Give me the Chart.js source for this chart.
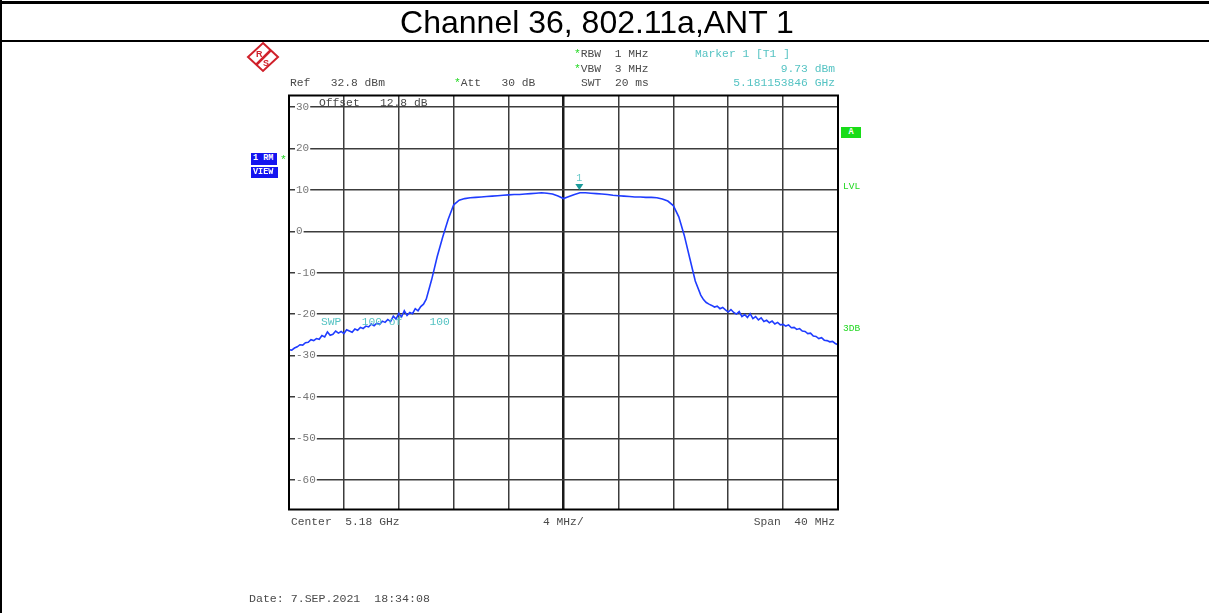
<!DOCTYPE html>
<html>
<head>
<meta charset="utf-8">
<script src="https://cdn.jsdelivr.net/npm/chart.js@4.4.0/dist/chart.umd.min.js"></script>
<style>
html, body { margin: 0; padding: 0; background: #fff; }
#page { position: relative; width: 1209px; height: 613px; overflow: hidden; }
#chart { position: absolute; left: 0; top: 0; }
.rule { position: absolute; background: #000; }
.title { position: absolute; left: 0; top: 6px; width: 1194px; text-align: center;
  font: 32px "Liberation Sans", Arial, sans-serif; line-height: 32px; color: #000; }
.m { position: absolute; font-family: "Liberation Mono", monospace; font-size: 11.3px;
  line-height: 12px; color: #4a4a4a; white-space: pre; }
.teal { color: #55c3c3; }
.grn { color: #22d822; }
.box { position: absolute; font-family: "Liberation Mono", monospace; font-size: 8.5px;
  font-weight: bold; color: #fff; line-height: 11px; white-space: pre; padding-left: 2px; box-sizing: border-box; }
</style>
</head>
<body>
<div id="page">
  <canvas id="chart" width="1209" height="613"></canvas>

  <div class="rule" style="left:0;top:1px;width:1209px;height:3px"></div>
  <div class="rule" style="left:0;top:40px;width:1209px;height:2px"></div>
  <div class="rule" style="left:0;top:0;width:2px;height:613px"></div>
  <div class="title">Channel 36, 802.11a,ANT 1</div>

  <svg style="position:absolute;left:246px;top:41px" width="34" height="32" viewBox="0 0 34 32">
    <polygon points="17,2 32,16 17,30 2,16" fill="none" stroke="#d0202a" stroke-width="2"/>
    <line x1="10" y1="24" x2="25" y2="9" stroke="#d0202a" stroke-width="2.5"/>
    <text x="10" y="16" font-family="Liberation Sans" font-size="9" font-weight="bold" fill="#d0202a">R</text>
    <text x="17" y="25" font-family="Liberation Sans" font-size="9" font-weight="bold" fill="#d0202a">S</text>
  </svg>

  <div class="m" style="left:290px;top:77px">Ref   32.8 dBm</div>
  <div class="m" style="left:454px;top:77px"><span class="grn">*</span>Att   30 dB</div>
  <div class="m" style="left:574px;top:48px"><span class="grn">*</span>RBW  1 MHz</div>
  <div class="m" style="left:574px;top:63px"><span class="grn">*</span>VBW  3 MHz</div>
  <div class="m" style="left:581px;top:77px">SWT  20 ms</div>
  <div class="m teal" style="left:695px;top:48px">Marker 1 [T1 ]</div>
  <div class="m teal" style="right:374px;top:63px">9.73 dBm</div>
  <div class="m teal" style="right:374px;top:77px">5.181153846 GHz</div>

  <div class="m" style="left:319px;top:97px">Offset   12.8 dB</div>
  <div class="m teal" style="left:321px;top:316px">SWP   100 of    100</div>

  <div class="box" style="left:251px;top:153px;width:26px;height:12px;background:#1414f0">1 RM</div>
  <div class="box" style="left:251px;top:167px;width:27px;height:11px;background:#1414f0">VIEW</div>
  <div class="m grn" style="left:280px;top:154px">*</div>

  <div class="box" style="left:841px;top:127px;width:20px;height:11px;background:#18dc18;text-align:center;padding:0">A</div>
  <div class="m grn" style="left:843px;top:181px;font-size:9.5px">LVL</div>
  <div class="m grn" style="left:843px;top:323px;font-size:9.5px">3DB</div>

  <div class="m" style="left:291px;top:516px">Center  5.18 GHz</div>
  <div class="m" style="left:543px;top:516px">4 MHz/</div>
  <div class="m" style="right:374px;top:516px">Span  40 MHz</div>
  <div class="m" style="left:249px;top:593px;font-size:11.6px">Date: 7.SEP.2021  18:34:08</div>
</div>

<script>
'use strict';

/* sweep settings */
var centerMHz = 5180;
var spanMHz = 40;
var refLevel = 32.8;
var yTicks = [30, 20, 10, 0, -10, -20, -30, -40, -50, -60];

/* trace: offset from center (MHz) and level (dBm) */
var offsetMHz = [
  -20.0, -19.8, -19.6, -19.4, -19.2, -19.0, -18.8, -18.6, -18.4, -18.2,
  -18.0, -17.8, -17.6, -17.4, -17.2, -17.0, -16.8, -16.6, -16.4, -16.2,
  -16.0, -15.8, -15.6, -15.4, -15.2, -15.0, -14.8, -14.6, -14.4, -14.2,
  -14.0, -13.8, -13.6, -13.4, -13.2, -13.0, -12.8, -12.6, -12.4, -12.2,
  -12.0, -11.8, -11.6, -11.4, -11.2, -11.0, -10.8, -10.6, -10.4, -10.2,
  -10.0, -9.6, -9.2, -8.8, -8.4, -8.0, -7.6, -7.2, -6.8, -6.4,
  -6.0, -5.6, -5.2, -4.8, -4.4, -4.0, -3.6, -3.2, -2.8, -2.4,
  -2.0, -1.6, -1.2, -0.8, -0.4, 0.0, 0.4, 0.8, 1.2, 1.6,
  2.0, 2.4, 2.8, 3.2, 3.6, 4.0, 4.4, 4.8, 5.2, 5.6,
  6.0, 6.4, 6.8, 7.2, 7.6, 8.0, 8.4, 8.8, 9.2, 9.6,
  10.0, 10.2, 10.4, 10.6, 10.8, 11.0, 11.2, 11.4, 11.6, 11.8,
  12.0, 12.2, 12.4, 12.6, 12.8, 13.0, 13.2, 13.4, 13.6, 13.8,
  14.0, 14.2, 14.4, 14.6, 14.8, 15.0, 15.2, 15.4, 15.6, 15.8,
  16.0, 16.2, 16.4, 16.6, 16.8, 17.0, 17.2, 17.4, 17.6, 17.8,
  18.0, 18.2, 18.4, 18.6, 18.8, 19.0, 19.2, 19.4, 19.6, 19.8,
  20.0
];
var levelDbm = [
  -28.6, -28.7, -28.2, -27.9, -27.4, -27.5, -26.9, -26.8, -26.2, -26.4,
  -25.9, -26.1, -25.2, -25.5, -24.3, -25.1, -24.9, -24.1, -24.6, -24.2,
  -24.7, -23.8, -24.1, -24.4, -23.6, -23.9, -23.2, -23.5, -22.9, -23.1,
  -22.4, -22.8, -22.2, -22.5, -21.7, -22.0, -21.3, -21.8, -20.5, -21.2,
  -19.8, -20.7, -19.2, -20.3, -19.6, -19.9, -18.7, -19.2, -18.2, -17.6,
  -16.4, -11.6, -6.1, -1.4, 2.9, 6.4, 7.5, 7.9, 8.1, 8.2,
  8.3, 8.4, 8.5, 8.6, 8.7, 8.8, 8.9, 8.9, 9.0, 9.1,
  9.2, 9.3, 9.2, 9.0, 8.5, 7.9, 8.4, 8.9, 9.3, 9.3,
  9.2, 9.1, 9.0, 8.9, 8.7, 8.6, 8.5, 8.4, 8.3, 8.3,
  8.2, 8.2, 8.1, 7.8, 7.3, 6.2, 3.5, -1.0, -6.5, -12.0,
  -15.4, -16.5, -17.2, -17.6, -17.9, -18.3, -18.1, -18.7, -18.4, -19.0,
  -19.5, -18.9, -19.6, -20.0, -19.4, -20.6, -20.1, -20.8, -19.9, -21.1,
  -20.6, -21.4, -20.9, -21.8, -21.5, -22.1, -21.7, -22.4, -22.0, -22.6,
  -22.5, -22.9, -22.6, -23.3, -23.2, -23.7, -23.5, -24.1, -24.2, -24.7,
  -24.6, -25.3, -25.4, -25.9, -25.7, -26.3, -26.4, -26.7, -26.6, -27.1,
  -27.4
];

/* marker 1 */
var markerOffsetMHz = 1.153846;
var markerLevel = 9.73;

var tracePoints = offsetMHz.map(function (f, i) {
  return { x: centerMHz + f, y: levelDbm[i] };
});

/* plot frame and marker triangle */
var analyzerPlugin = {
  id: 'analyzer',
  afterDatasetsDraw: function (chart) {
    var ctx = chart.ctx;
    var x = chart.scales.x.getPixelForValue(centerMHz + markerOffsetMHz);
    var y = chart.scales.y.getPixelForValue(markerLevel);
    ctx.save();
    ctx.fillStyle = '#1a9a9a';
    ctx.beginPath();
    ctx.moveTo(x - 4, y - 7);
    ctx.lineTo(x + 4, y - 7);
    ctx.lineTo(x, y - 1);
    ctx.closePath();
    ctx.fill();
    ctx.fillStyle = '#66c8c8';
    ctx.font = '10px "Liberation Mono"';
    ctx.textAlign = 'center';
    ctx.textBaseline = 'middle';
    ctx.fillText('1', x, y - 13);
    ctx.restore();
  },
  afterDraw: function (chart) {
    var a = chart.chartArea;
    var ctx = chart.ctx;
    ctx.save();
    ctx.strokeStyle = '#000';
    ctx.lineWidth = 2;
    ctx.strokeRect(a.left, a.top, a.right - a.left, a.bottom - a.top);
    ctx.restore();
  }
};

var chart = new Chart(document.getElementById('chart').getContext('2d'), {
  type: 'line',
  data: {
    datasets: [{
      label: '1 RM',
      data: tracePoints,
      borderColor: '#1f3cff',
      borderWidth: 1.6,
      pointRadius: 0,
      tension: 0,
      fill: false
    }]
  },
  options: {
    responsive: false,
    animation: false,
    events: [],
    layout: { padding: { left: 289, right: 371, top: 95.5, bottom: 103.5 } },
    plugins: { legend: { display: false }, tooltip: { enabled: false } },
    scales: {
      x: {
        type: 'linear',
        min: centerMHz - spanMHz / 2,
        max: centerMHz + spanMHz / 2,
        ticks: { display: false, stepSize: 4 },
        border: { display: false },
        grid: {
          drawTicks: false,
          color: function (c) { return c.tick && c.tick.value === centerMHz ? '#1a1a1a' : '#3c3c3c'; },
          lineWidth: function (c) { return c.tick && c.tick.value === centerMHz ? 2.5 : 1.5; }
        },
        afterFit: function (scale) { scale.height = 0; }
      },
      y: {
        min: refLevel - 100,
        max: refLevel,
        afterBuildTicks: function (scale) {
          scale.ticks = yTicks.map(function (v) { return { value: v }; });
        },
        afterFit: function (scale) { scale.width = 0; },
        border: { display: false },
        grid: { drawTicks: false, color: '#3c3c3c', lineWidth: 1.5 },
        ticks: {
          mirror: true,
          padding: 7,
          color: '#777',
          font: { family: 'Liberation Mono', size: 11 },
          showLabelBackdrop: true,
          backdropColor: '#fff',
          backdropPadding: { x: 1, y: 0 }
        }
      }
    }
  },
  plugins: [analyzerPlugin]
});
</script>
</body>
</html>
